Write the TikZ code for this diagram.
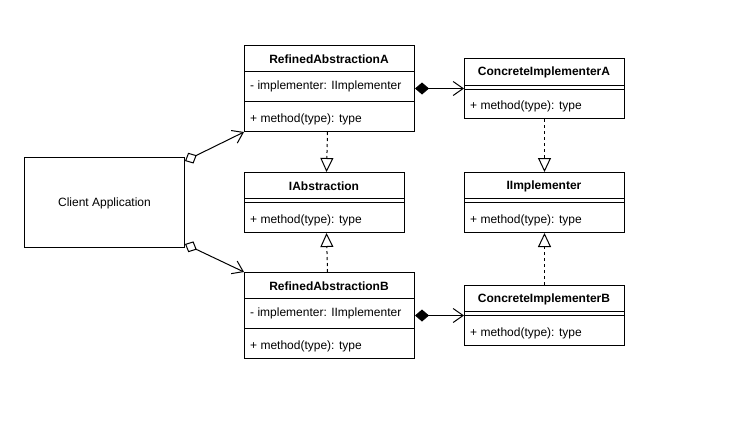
\documentclass[tikz,border=0pt]{standalone}
\usepackage{fontspec}
\setmainfont{Liberation Sans}
\usetikzlibrary{arrows.meta}

\tikzset{
	classbox/.style={draw, line width=1pt, inner sep=0pt, anchor=north west},
	classtitle/.style={font=\fontsize{12}{14}\selectfont\bfseries, inner sep=0pt},
	member/.style={anchor=west, inner sep=0pt},
	aggregation/.style={line width=1pt, {Diamond[open,length=13pt,width=12pt]}-{Straight Barb[length=10pt,width=14pt]}},
	composition/.style={line width=1pt, {Diamond[length=14pt,width=12pt]}-{Straight Barb[length=10pt,width=14pt]}},
	realize/.style={line width=1pt, dash pattern=on 3pt off 3pt, -{Triangle[open,length=14pt,width=13pt]}},
}

\begin{document}
\begin{tikzpicture}[x=1pt, y=-1pt, font=\fontsize{12}{14}\selectfont]
	
	\useasboundingbox (0,0) rectangle (737,426);
	
	% Client
	\node[classbox, minimum width=160pt, minimum height=90pt] (client) at (24,157) {};
	\node (clienttext) at ([yshift=-1pt]client.center) {Client Application};
	
	% RefinedAbstractionA
	\node[classbox, minimum width=170pt, minimum height=86pt] (ra) at (244,45) {};
	\node[classtitle] (ratitle) at (329,59) {RefinedAbstractionA};
	\draw[line width=1pt] (244,71) -- (414,71);
	\node[member] (raattr) at (250,86.5) {- implementer: IImplementer};
	\draw[line width=1pt] (244,101) -- (414,101);
	\node[member] (ramethod) at (250,119.5) {+ method(type): type};
	
	% RefinedAbstractionB
	\node[classbox, minimum width=170pt, minimum height=86pt] (rb) at (244,272) {};
	\node[classtitle] (rbtitle) at (329,286) {RefinedAbstractionB};
	\draw[line width=1pt] (244,298) -- (414,298);
	\node[member] (rbattr) at (250,313.5) {- implementer: IImplementer};
	\draw[line width=1pt] (244,328) -- (414,328);
	\node[member] (rbmethod) at (250,346.5) {+ method(type): type};
	
	% IAbstraction
	\node[classbox, minimum width=160pt, minimum height=60pt] (iabs) at (244,172) {};
	\node[classtitle] (iabstitle) at (324,186) {IAbstraction};
	\draw[line width=1pt] (244,198) -- (404,198);
	\draw[line width=1pt] (244,202) -- (404,202);
	\node[member] (iabsmethod) at (250,220.5) {+ method(type): type};
	
	% IImplementer
	\node[classbox, minimum width=160pt, minimum height=60pt] (iimpl) at (464,172) {};
	\node[classtitle] (iimpltitle) at (544,186) {IImplementer};
	\draw[line width=1pt] (464,198) -- (624,198);
	\draw[line width=1pt] (464,202) -- (624,202);
	\node[member] (iimplmethod) at (470,220.5) {+ method(type): type};
	
	% ConcreteImplementerA
	\node[classbox, minimum width=160pt, minimum height=60pt] (cia) at (464,58) {};
	\node[classtitle] (ciatitle) at (544,72) {ConcreteImplementerA};
	\draw[line width=1pt] (464,85) -- (624,85);
	\draw[line width=1pt] (464,89) -- (624,89);
	\node[member] (ciamethod) at (470,106.5) {+ method(type): type};
	
	% ConcreteImplementerB
	\node[classbox, minimum width=160pt, minimum height=60pt] (cib) at (464,285) {};
	\node[classtitle] (cibtitle) at (544,299) {ConcreteImplementerB};
	\draw[line width=1pt] (464,311) -- (624,311);
	\draw[line width=1pt] (464,315) -- (624,315);
	\node[member] (cibmethod) at (470,333.5) {+ method(type): type};
	
	% Connectors
	\draw[aggregation] ([yshift=-4pt]client.north east) -- (ra.south west);
	\draw[aggregation] ([yshift=4pt]client.south east) -- (rb.north west);
	\draw[composition] (ra.east) -- (cia.west);
	\draw[composition] (rb.east) -- (cib.west);
	\draw[realize] ([xshift=-2pt]ra.south) -- ([xshift=2pt]iabs.north);
	\draw[realize] ([xshift=-2pt]rb.north) -- ([xshift=2pt]iabs.south);
	\draw[realize] (cia.south) -- (iimpl.north);
	\draw[realize] (cib.north) -- (iimpl.south);
	
\end{tikzpicture}
\end{document}
